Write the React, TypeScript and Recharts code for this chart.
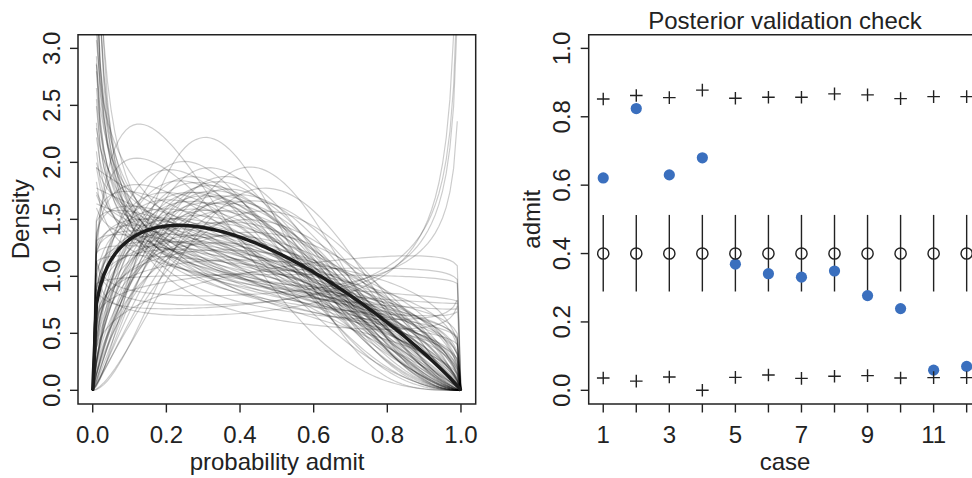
import React from "react";
import {
  LineChart,
  Line,
  XAxis,
  YAxis,
  ReferenceArea,
  ComposedChart,
  Scatter,
  ErrorBar,
} from "recharts";

const FONT = '"Liberation Sans", Arial, Helvetica, sans-serif';
const INK = "#222";

// posterior draws (pbar, theta)
const drawPbar = [
  0.32, 0.62, 0.36, 0.58, 0.60, 0.38, 0.55, 0.34, 0.41, 0.37,
  0.43, 0.33, 0.39, 0.45, 0.35, 0.40, 0.30, 0.42, 0.38, 0.36,
  0.39, 0.50, 0.35, 0.41, 0.37, 0.52, 0.33, 0.42, 0.38, 0.45,
  0.55, 0.40, 0.34, 0.43, 0.39, 0.48, 0.37, 0.41, 0.35, 0.44,
  0.38, 0.42, 0.31, 0.40, 0.46, 0.36, 0.39, 0.43, 0.37, 0.41,
  0.34, 0.45, 0.38,
  0.40, 0.36, 0.43, 0.38, 0.45, 0.34, 0.41, 0.39, 0.47, 0.37,
  0.42, 0.33, 0.40, 0.44, 0.36, 0.39, 0.46, 0.35, 0.41, 0.38,
  0.43, 0.30, 0.40, 0.48, 0.37, 0.42, 0.39,
  0.38, 0.43, 0.35, 0.41, 0.46, 0.33, 0.40, 0.37, 0.44, 0.39,
  0.36, 0.42, 0.27, 0.40, 0.48, 0.34, 0.41, 0.38, 0.45, 0.36,
];
const drawTheta = [
  1.25, 1.32, 1.38, 1.45, 1.50, 1.55, 1.60, 1.64, 1.68, 1.72,
  1.75, 1.78, 1.82, 1.85, 1.88, 1.90, 1.93, 1.95, 1.97, 1.99,
  2.02, 2.05, 2.08, 2.11, 2.14, 2.17, 2.20, 2.23, 2.26, 2.29,
  2.32, 2.35, 2.38, 2.41, 2.44, 2.47, 2.50, 2.53, 2.56, 2.59,
  2.62, 2.65, 2.68, 2.71, 2.74, 2.77, 2.80, 2.83, 2.86, 2.89,
  2.92, 2.95, 2.98,
  3.03, 3.08, 3.13, 3.18, 3.23, 3.28, 3.33, 3.38, 3.44, 3.50,
  3.56, 3.62, 3.68, 3.74, 3.80, 3.86, 3.92, 3.98, 4.04, 4.10,
  4.16, 4.22, 4.28, 4.34, 4.40, 4.45, 4.50,
  4.55, 4.60, 4.65, 4.70, 4.75, 4.80, 4.85, 4.90, 4.95, 5.00,
  5.05, 5.10, 5.20, 5.30, 5.40, 5.50, 5.65, 5.80, 6.40, 7.20,
];
const meanPbar = 0.4;
const meanTheta = 3.2;

const densityTicks = [0, 0.5, 1, 1.5, 2, 2.5, 3];
const probTicks = [0, 0.2, 0.4, 0.6, 0.8, 1];

// right panel
const cases = [1, 2, 3, 4, 5, 6, 7, 8, 9, 10, 11, 12];
const admitObs = [0.621, 0.824, 0.630, 0.680, 0.369, 0.341, 0.331, 0.349, 0.277, 0.239, 0.059, 0.070];
const predMean = [0.40, 0.40, 0.40, 0.40, 0.40, 0.40, 0.40, 0.40, 0.40, 0.40, 0.40, 0.40];
const predLow = [0.289, 0.289, 0.289, 0.289, 0.289, 0.289, 0.289, 0.289, 0.289, 0.289, 0.289, 0.289];
const predHigh = [0.513, 0.513, 0.513, 0.513, 0.513, 0.513, 0.513, 0.513, 0.513, 0.513, 0.513, 0.513];
const simHigh = [0.852, 0.862, 0.856, 0.878, 0.854, 0.857, 0.857, 0.867, 0.864, 0.853, 0.859, 0.859];
const simLow = [0.036, 0.027, 0.039, 0.0, 0.038, 0.045, 0.035, 0.041, 0.043, 0.036, 0.037, 0.037];
const admitTicks = [0, 0.2, 0.4, 0.6, 0.8, 1];

// beta density (dbeta2 parameterisation)
const LANCZOS = [
  0.99999999999980993, 676.5203681218851, -1259.1392167224028, 771.32342877765313,
  -176.61502916214059, 12.507343278686905, -0.13857109526572012, 9.9843695780195716e-6,
  1.5056327351493116e-7,
];
function lgamma(z: number): number {
  if (z < 0.5) return Math.log(Math.PI / Math.sin(Math.PI * z)) - lgamma(1 - z);
  z -= 1;
  let s = LANCZOS[0];
  for (let i = 1; i < 9; i++) s += LANCZOS[i] / (z + i);
  const t = z + 7.5;
  return 0.5 * Math.log(2 * Math.PI) + (z + 0.5) * Math.log(t) - t + Math.log(s);
}
function dbeta2(x: number, p: number, theta: number): number | null {
  const a = p * theta;
  const b = (1 - p) * theta;
  const lb = lgamma(a) + lgamma(b) - lgamma(a + b);
  if (x === 0) return a > 1 ? 0 : a === 1 ? Math.exp(-lb) : null;
  if (x === 1) return b > 1 ? 0 : b === 1 ? Math.exp(-lb) : null;
  return Math.exp((a - 1) * Math.log(x) + (b - 1) * Math.log(1 - x) - lb);
}

// same 101-point grid R's curve() uses
const gridX = Array.from({ length: 101 }, (_, i) => i / 100);
const densityRows = gridX.map((x) => {
  const row: Record<string, number | null> = { x };
  drawPbar.forEach((p, i) => {
    row["c" + i] = dbeta2(x, p, drawTheta[i]);
  });
  row.mean = dbeta2(x, meanPbar, meanTheta);
  return row;
});

const caseRows = cases.map((c, i) => ({
  case: c,
  obs: admitObs[i],
  mean: predMean[i],
  err: [predMean[i] - predLow[i], predHigh[i] - predMean[i]],
  hi: simHigh[i],
  lo: simLow[i],
}));

const YTick = (props: any) => (
  <text
    x={props.x}
    y={props.y}
    transform={`rotate(-90 ${props.x} ${props.y})`}
    textAnchor="middle"
    fontSize={24}
    fontFamily={FONT}
    fill={INK}
  >
    {Number(props.payload.value).toFixed(1)}
  </text>
);

const XTickProb = (props: any) => (
  <text x={props.x} y={props.y + 30.5} textAnchor="middle" fontSize={24} fontFamily={FONT} fill={INK}>
    {Number(props.payload.value).toFixed(1)}
  </text>
);

const XTickCase = (props: any) =>
  props.payload.value % 2 === 1 ? (
    <text x={props.x} y={props.y + 30.5} textAnchor="middle" fontSize={24} fontFamily={FONT} fill={INK}>
      {props.payload.value}
    </text>
  ) : (
    <g />
  );

const Dot = (props: any) => <circle cx={props.cx} cy={props.cy} r={5.6} fill="#3a6fbe" />;
const Ring = (props: any) => (
  <circle cx={props.cx} cy={props.cy} r={5.6} fill="none" stroke={INK} strokeWidth={1.4} />
);
const Plus = (props: any) => (
  <path
    d={`M${props.cx - 6.3},${props.cy}h12.6M${props.cx},${props.cy - 6.3}v12.6`}
    stroke={INK}
    strokeWidth={1.4}
    fill="none"
  />
);

function DensityPanel() {
  return (
    <LineChart width={490} height={478} data={densityRows} margin={{ top: 34.7, right: 14.3, bottom: 0, left: 0 }}>
      <XAxis
        type="number"
        dataKey="x"
        domain={[-0.04, 1.04]}
        ticks={probTicks}
        interval={0}
        allowDataOverflow
        axisLine={false}
        tickSize={8.5}
        tickMargin={0}
        tickLine={{ stroke: INK, strokeWidth: 1.4 }}
        tick={XTickProb}
        height={74}
      />
      <YAxis
        type="number"
        domain={[-0.12, 3.12]}
        ticks={densityTicks}
        interval={0}
        allowDataOverflow
        axisLine={false}
        tickSize={8}
        tickMargin={10}
        tickLine={{ stroke: INK, strokeWidth: 1.4 }}
        tick={YTick}
        width={78}
      />
      {drawPbar.map((_, i) => (
        <Line
          key={i}
          dataKey={"c" + i}
          type="linear"
          stroke="rgba(0,0,0,0.2)"
          strokeWidth={1.2}
          dot={false}
          activeDot={false}
          isAnimationActive={false}
        />
      ))}
      <Line dataKey="mean" type="linear" stroke="#1c1c1c" strokeWidth={3.5} dot={false} activeDot={false} isAnimationActive={false} />
      <ReferenceArea x1={-0.04} x2={1.04} y1={-0.12} y2={3.12} fill="none" stroke={INK} strokeWidth={1.5} />
    </LineChart>
  );
}

function CheckPanel() {
  return (
    <ComposedChart width={500} height={478} data={caseRows} margin={{ top: 34.7, right: 8.8, bottom: 0, left: 0 }}>
      <XAxis
        type="number"
        dataKey="case"
        domain={[0.56, 12.44]}
        ticks={cases}
        interval={0}
        allowDataOverflow
        axisLine={false}
        tickSize={8.5}
        tickMargin={0}
        tickLine={{ stroke: INK, strokeWidth: 1.4 }}
        tick={XTickCase}
        height={74}
      />
      <YAxis
        type="number"
        domain={[-0.04, 1.04]}
        ticks={admitTicks}
        interval={0}
        allowDataOverflow
        axisLine={false}
        tickSize={8}
        tickMargin={10.7}
        tickLine={{ stroke: INK, strokeWidth: 1.4 }}
        tick={YTick}
        width={98.7}
      />
      <Scatter dataKey="obs" shape={Dot} isAnimationActive={false} />
      <Scatter dataKey="mean" shape={Ring} isAnimationActive={false}>
        <ErrorBar dataKey="err" direction="y" width={0} stroke={INK} strokeWidth={1.4} isAnimationActive={false} />
      </Scatter>
      <Scatter dataKey="hi" shape={Plus} isAnimationActive={false} />
      <Scatter dataKey="lo" shape={Plus} isAnimationActive={false} />
      <ReferenceArea x1={0.56} x2={12.44} y1={-0.04} y2={1.04} fill="none" stroke={INK} strokeWidth={1.5} />
    </ComposedChart>
  );
}

export default function App() {
  return (
    <div
      style={{
        position: "fixed",
        left: 0,
        top: 0,
        width: 972,
        height: 478,
        overflow: "hidden",
        background: "#fff",
      }}
    >
      <div style={{ position: "absolute", left: 0, top: 0 }}>
        <DensityPanel />
      </div>
      <div style={{ position: "absolute", left: 490, top: 0 }}>
        <CheckPanel />
      </div>
      <svg
        width={972}
        height={478}
        style={{ position: "absolute", left: 0, top: 0, pointerEvents: "none" }}
        fontFamily={FONT}
        fontSize={24}
        fill={INK}
      >
        <text x={785} y={29} textAnchor="middle">
          Posterior validation check
        </text>
        <text x={277} y={470} textAnchor="middle">
          probability admit
        </text>
        <text x={785} y={470} textAnchor="middle">
          case
        </text>
        <text x={29.3} y={219.3} textAnchor="middle" transform="rotate(-90 29.3 219.3)">
          Density
        </text>
        <text x={540} y={219.3} textAnchor="middle" transform="rotate(-90 540 219.3)">
          admit
        </text>
      </svg>
    </div>
  );
}
